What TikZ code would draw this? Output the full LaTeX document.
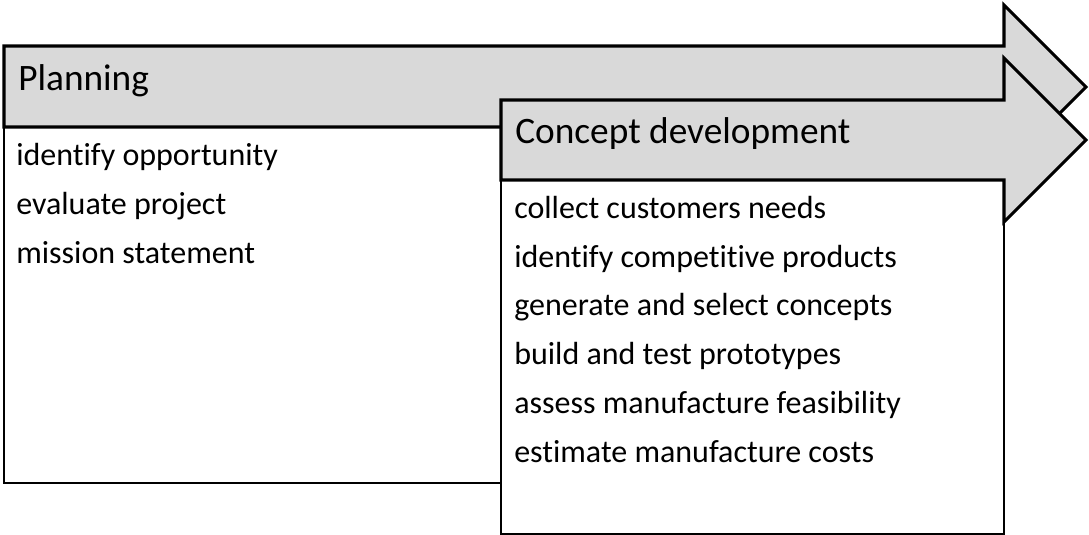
\documentclass[tikz,border=0pt]{standalone}
\usepackage{fontspec}
\setmainfont{Carlito}[Ligatures={NoCommon,NoRare,NoContextual},RawFeature={-liga;-clig;-dlig}]
\definecolor{arrowgray}{HTML}{D9D9D9}
\begin{document}
\begin{tikzpicture}[x=0.75pt,y=-0.75pt,
  phasearrow/.style={fill=arrowgray,draw=black,line width=2.3pt,line join=miter},
  listbox/.style={fill=white,draw=black,line width=1.5pt},
  title/.style={anchor=base west,inner sep=0pt,font=\fontsize{28}{34}\selectfont},
  item/.style={anchor=base west,inner sep=0pt,font=\fontsize{24}{29}\selectfont}]
\useasboundingbox (0,0) rectangle (1089,535);
% Planning
\draw[listbox] (4,127) rectangle (700,483);
\draw[phasearrow] (4,46) -- (1004,46) -- (1004,5) -- (1086,87) -- (1004,169) -- (1004,127) -- (4,127) -- cycle;
\node[title] (plan) at (18,90) {Planning};
\node[item] (p1) at (16,165) {identify opportunity};
\node[item] (p2) at (16,214) {evaluate project};
\node[item] (p3) at (16,263) {mission statement};
% Concept development
\draw[listbox] (501,180) rectangle (1004,533.5);
\draw[phasearrow] (501,100) -- (1004,100) -- (1004,58) -- (1086,140) -- (1004,222) -- (1004,180) -- (501,180) -- cycle;
\node[title] (conc) at (515,143) {Concept development};
\node[item] (c1) at (514,218) {collect customers needs};
\node[item] (c2) at (514,267) {identify competitive products};
\node[item] (c3) at (514,315) {generate and select concepts};
\node[item] (c4) at (514,364) {build and test prototypes};
\node[item] (c5) at (514,413) {assess manufacture feasibility};
\node[item] (c6) at (514,462) {estimate manufacture costs};
\end{tikzpicture}
\end{document}
